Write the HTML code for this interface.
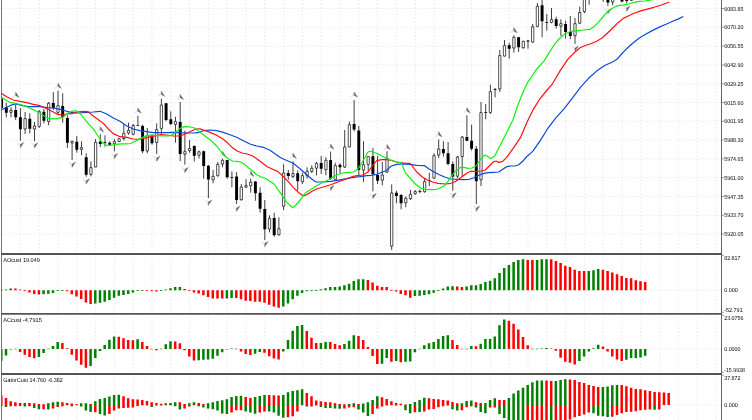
<!DOCTYPE html>
<html><head><meta charset="utf-8"><title>Chart</title>
<style>html,body{margin:0;padding:0;background:#fff;overflow:hidden}svg{display:block}text{text-rendering:geometricPrecision;font-family:"Liberation Sans","DejaVu Sans",sans-serif;fill:#000}</style></head><body>
<svg width="752" height="420" viewBox="0 0 752 420">
<rect x="0" y="0" width="752" height="420" fill="#fff"/>
<path d="M20.40 0V420 M39.20 0V420 M58.00 0V420 M76.80 0V420 M95.59 0V420 M114.40 0V420 M133.19 0V420 M152.00 0V420 M170.79 0V420 M189.59 0V420 M208.39 0V420 M227.19 0V420 M246.00 0V420 M264.80 0V420 M283.60 0V420 M302.40 0V420 M321.20 0V420 M340.00 0V420 M358.80 0V420 M377.60 0V420 M396.40 0V420 M415.20 0V420 M434.00 0V420 M452.80 0V420 M471.60 0V420 M490.40 0V420 M509.20 0V420 M528.00 0V420 M546.79 0V420 M565.60 0V420 M584.39 0V420 M603.19 0V420 M622.00 0V420 M640.79 0V420 M659.60 0V420 M678.39 0V420 M697.19 0V420 M716.00 0V420" stroke="#d8d8d8" stroke-width="0.65" stroke-dasharray="1.3 2.225" fill="none"/>
<path d="M2 8.52H721.5 M2 27.32H721.5 M2 46.12H721.5 M2 64.92H721.5 M2 83.72H721.5 M2 102.52H721.5 M2 121.32H721.5 M2 140.12H721.5 M2 158.92H721.5 M2 177.72H721.5 M2 196.52H721.5 M2 215.32H721.5 M2 234.12H721.5 M2 290.30H721.5 M2 349.00H721.5 M2 405.00H721.5" stroke="#e0e0e0" stroke-width="0.6" stroke-dasharray="1.76 1.76" fill="none"/>
<path d="M4.75 289.40h2.5V290.30h-2.5z M9.45 288.40h2.5V290.30h-2.5z M42.35 290.30h2.5V294.20h-2.5z M47.05 290.30h2.5V293.70h-2.5z M51.75 290.30h2.5V292.90h-2.5z M56.45 290.30h2.5V291.00h-2.5z M61.15 290.30h2.5V290.90h-2.5z M94.05 290.30h2.5V303.60h-2.5z M98.75 290.30h2.5V302.70h-2.5z M103.45 290.30h2.5V301.70h-2.5z M108.15 290.30h2.5V300.00h-2.5z M112.85 290.30h2.5V297.70h-2.5z M117.55 290.30h2.5V295.70h-2.5z M122.25 290.30h2.5V295.00h-2.5z M126.94 290.30h2.5V294.00h-2.5z M131.64 290.30h2.5V292.40h-2.5z M136.34 289.95h2.5V290.65h-2.5z M141.04 289.95h2.5V290.65h-2.5z M159.84 290.30h2.5V291.00h-2.5z M164.54 289.50h2.5V290.30h-2.5z M169.24 288.20h2.5V290.30h-2.5z M173.94 287.00h2.5V290.30h-2.5z M178.64 286.90h2.5V290.30h-2.5z M225.64 290.30h2.5V298.40h-2.5z M230.34 290.30h2.5V298.00h-2.5z M282.05 290.30h2.5V306.40h-2.5z M286.75 290.30h2.5V303.60h-2.5z M291.44 290.30h2.5V299.30h-2.5z M296.15 290.30h2.5V295.70h-2.5z M300.85 290.30h2.5V292.90h-2.5z M305.55 290.30h2.5V291.30h-2.5z M310.25 289.95h2.5V290.65h-2.5z M314.94 289.95h2.5V290.65h-2.5z M319.65 289.30h2.5V290.30h-2.5z M324.35 288.30h2.5V290.30h-2.5z M329.05 287.10h2.5V290.30h-2.5z M333.75 287.00h2.5V290.30h-2.5z M338.44 286.40h2.5V290.30h-2.5z M343.15 285.30h2.5V290.30h-2.5z M347.85 283.70h2.5V290.30h-2.5z M352.55 280.90h2.5V290.30h-2.5z M357.25 279.30h2.5V290.30h-2.5z M361.94 279.20h2.5V290.30h-2.5z M413.65 290.30h2.5V296.00h-2.5z M418.35 290.30h2.5V295.70h-2.5z M423.05 290.30h2.5V294.90h-2.5z M427.75 290.30h2.5V294.30h-2.5z M432.44 290.30h2.5V292.70h-2.5z M437.15 289.95h2.5V290.65h-2.5z M441.85 288.40h2.5V290.30h-2.5z M446.55 286.40h2.5V290.30h-2.5z M451.25 286.30h2.5V290.30h-2.5z M465.35 286.40h2.5V290.30h-2.5z M470.05 285.30h2.5V290.30h-2.5z M474.75 285.20h2.5V290.30h-2.5z M479.45 284.00h2.5V290.30h-2.5z M484.15 282.00h2.5V290.30h-2.5z M488.85 280.70h2.5V290.30h-2.5z M493.55 278.30h2.5V290.30h-2.5z M498.25 273.10h2.5V290.30h-2.5z M502.95 268.00h2.5V290.30h-2.5z M507.65 264.90h2.5V290.30h-2.5z M512.35 262.00h2.5V290.30h-2.5z M517.05 260.00h2.5V290.30h-2.5z M521.75 259.30h2.5V290.30h-2.5z M535.85 260.00h2.5V290.30h-2.5z M540.55 259.30h2.5V290.30h-2.5z M545.25 259.20h2.5V290.30h-2.5z M587.55 270.90h2.5V290.30h-2.5z M592.25 270.30h2.5V290.30h-2.5z M596.95 269.10h2.5V290.30h-2.5z" fill="#008000"/>
<path d="M0.04 289.60h2.5V290.30h-2.5z M14.14 288.60h2.5V290.30h-2.5z M18.85 289.40h2.5V290.30h-2.5z M23.55 289.95h2.5V290.65h-2.5z M28.25 290.30h2.5V292.50h-2.5z M32.95 290.30h2.5V294.00h-2.5z M37.65 290.30h2.5V294.40h-2.5z M65.85 290.30h2.5V291.30h-2.5z M70.55 290.30h2.5V294.20h-2.5z M75.25 290.30h2.5V296.60h-2.5z M79.95 290.30h2.5V298.90h-2.5z M84.65 290.30h2.5V302.40h-2.5z M89.35 290.30h2.5V304.00h-2.5z M145.74 290.30h2.5V291.00h-2.5z M150.44 290.30h2.5V291.20h-2.5z M155.14 290.30h2.5V291.60h-2.5z M183.34 289.10h2.5V290.30h-2.5z M188.04 289.95h2.5V290.65h-2.5z M192.74 290.30h2.5V292.50h-2.5z M197.44 290.30h2.5V293.60h-2.5z M202.14 290.30h2.5V295.30h-2.5z M206.84 290.30h2.5V297.10h-2.5z M211.54 290.30h2.5V298.40h-2.5z M216.24 290.30h2.5V298.50h-2.5z M220.94 290.30h2.5V298.60h-2.5z M235.04 290.30h2.5V298.10h-2.5z M239.74 290.30h2.5V299.30h-2.5z M244.44 290.30h2.5V300.70h-2.5z M249.14 290.30h2.5V301.10h-2.5z M253.84 290.30h2.5V301.70h-2.5z M258.55 290.30h2.5V301.80h-2.5z M263.25 290.30h2.5V302.70h-2.5z M267.94 290.30h2.5V304.70h-2.5z M272.65 290.30h2.5V306.40h-2.5z M277.35 290.30h2.5V307.70h-2.5z M366.65 280.00h2.5V290.30h-2.5z M371.35 282.40h2.5V290.30h-2.5z M376.05 285.70h2.5V290.30h-2.5z M380.75 286.90h2.5V290.30h-2.5z M385.44 287.00h2.5V290.30h-2.5z M390.15 289.95h2.5V290.65h-2.5z M394.85 290.30h2.5V291.50h-2.5z M399.55 290.30h2.5V294.00h-2.5z M404.25 290.30h2.5V295.30h-2.5z M408.94 290.30h2.5V297.70h-2.5z M455.95 286.40h2.5V290.30h-2.5z M460.65 287.10h2.5V290.30h-2.5z M526.45 260.00h2.5V290.30h-2.5z M531.14 260.10h2.5V290.30h-2.5z M549.95 259.30h2.5V290.30h-2.5z M554.64 260.90h2.5V290.30h-2.5z M559.35 263.10h2.5V290.30h-2.5z M564.05 265.70h2.5V290.30h-2.5z M568.75 267.10h2.5V290.30h-2.5z M573.45 269.70h2.5V290.30h-2.5z M578.14 270.90h2.5V290.30h-2.5z M582.85 271.00h2.5V290.30h-2.5z M601.64 269.70h2.5V290.30h-2.5z M606.35 270.90h2.5V290.30h-2.5z M611.05 272.40h2.5V290.30h-2.5z M615.75 274.30h2.5V290.30h-2.5z M620.45 276.00h2.5V290.30h-2.5z M625.14 278.00h2.5V290.30h-2.5z M629.85 278.30h2.5V290.30h-2.5z M634.55 280.30h2.5V290.30h-2.5z M639.25 281.30h2.5V290.30h-2.5z M643.95 282.00h2.5V290.30h-2.5z" fill="#ff0000"/>
<path d="M0.04 349.00h2.5V360.70h-2.5z M4.75 349.00h2.5V355.40h-2.5z M9.45 349.00h2.5V349.60h-2.5z M14.14 348.65h2.5V349.35h-2.5z M37.65 349.00h2.5V357.00h-2.5z M42.35 349.00h2.5V353.00h-2.5z M47.05 348.65h2.5V349.35h-2.5z M51.75 346.10h2.5V349.00h-2.5z M56.45 342.10h2.5V349.00h-2.5z M89.35 349.00h2.5V365.90h-2.5z M94.05 349.00h2.5V358.10h-2.5z M98.75 349.00h2.5V351.00h-2.5z M103.45 345.00h2.5V349.00h-2.5z M108.15 339.70h2.5V349.00h-2.5z M112.85 336.60h2.5V349.00h-2.5z M136.34 339.30h2.5V349.00h-2.5z M159.84 348.65h2.5V349.35h-2.5z M164.54 344.30h2.5V349.00h-2.5z M169.24 341.30h2.5V349.00h-2.5z M197.44 349.00h2.5V360.30h-2.5z M202.14 349.00h2.5V359.70h-2.5z M206.84 349.00h2.5V359.40h-2.5z M211.54 349.00h2.5V358.70h-2.5z M216.24 349.00h2.5V355.70h-2.5z M220.94 349.00h2.5V352.30h-2.5z M225.64 349.00h2.5V349.50h-2.5z M230.34 348.40h2.5V349.00h-2.5z M253.84 349.00h2.5V353.70h-2.5z M258.55 349.00h2.5V352.00h-2.5z M282.05 349.00h2.5V351.50h-2.5z M286.75 340.10h2.5V349.00h-2.5z M291.44 330.70h2.5V349.00h-2.5z M296.15 326.10h2.5V349.00h-2.5z M300.85 325.00h2.5V349.00h-2.5z M319.65 342.90h2.5V349.00h-2.5z M324.35 341.90h2.5V349.00h-2.5z M343.15 344.10h2.5V349.00h-2.5z M347.85 340.70h2.5V349.00h-2.5z M352.55 335.30h2.5V349.00h-2.5z M380.75 349.00h2.5V363.70h-2.5z M385.44 349.00h2.5V358.10h-2.5z M394.85 349.00h2.5V361.00h-2.5z M404.25 349.00h2.5V361.70h-2.5z M408.94 349.00h2.5V361.60h-2.5z M413.65 349.00h2.5V352.30h-2.5z M418.35 348.65h2.5V349.35h-2.5z M423.05 345.30h2.5V349.00h-2.5z M427.75 343.30h2.5V349.00h-2.5z M432.44 342.10h2.5V349.00h-2.5z M437.15 339.00h2.5V349.00h-2.5z M441.85 336.10h2.5V349.00h-2.5z M446.55 335.30h2.5V349.00h-2.5z M465.35 348.65h2.5V349.35h-2.5z M470.05 346.10h2.5V349.00h-2.5z M479.45 343.70h2.5V349.00h-2.5z M484.15 339.00h2.5V349.00h-2.5z M488.85 338.90h2.5V349.00h-2.5z M493.55 336.60h2.5V349.00h-2.5z M498.25 325.30h2.5V349.00h-2.5z M502.95 319.40h2.5V349.00h-2.5z M535.85 348.65h2.5V349.35h-2.5z M540.55 348.50h2.5V349.00h-2.5z M545.25 348.10h2.5V349.00h-2.5z M578.14 349.00h2.5V361.00h-2.5z M582.85 349.00h2.5V356.60h-2.5z M587.55 349.00h2.5V351.50h-2.5z M592.25 348.20h2.5V349.00h-2.5z M596.95 344.70h2.5V349.00h-2.5z M625.14 349.00h2.5V359.70h-2.5z M629.85 349.00h2.5V358.10h-2.5z M634.55 349.00h2.5V358.00h-2.5z M639.25 349.00h2.5V357.40h-2.5z M643.95 349.00h2.5V355.70h-2.5z" fill="#008000"/>
<path d="M18.85 349.00h2.5V351.90h-2.5z M23.55 349.00h2.5V354.70h-2.5z M28.25 349.00h2.5V357.00h-2.5z M32.95 349.00h2.5V358.30h-2.5z M61.15 343.00h2.5V349.00h-2.5z M65.85 348.20h2.5V349.00h-2.5z M70.55 349.00h2.5V354.70h-2.5z M75.25 349.00h2.5V360.60h-2.5z M79.95 349.00h2.5V364.70h-2.5z M84.65 349.00h2.5V367.70h-2.5z M117.55 336.70h2.5V349.00h-2.5z M122.25 338.30h2.5V349.00h-2.5z M126.94 340.10h2.5V349.00h-2.5z M131.64 340.20h2.5V349.00h-2.5z M141.04 342.10h2.5V349.00h-2.5z M145.74 346.10h2.5V349.00h-2.5z M150.44 348.65h2.5V349.35h-2.5z M155.14 349.00h2.5V350.30h-2.5z M173.94 341.40h2.5V349.00h-2.5z M178.64 343.30h2.5V349.00h-2.5z M183.34 349.00h2.5V350.30h-2.5z M188.04 349.00h2.5V356.60h-2.5z M192.74 349.00h2.5V360.60h-2.5z M235.04 348.65h2.5V349.35h-2.5z M239.74 349.00h2.5V351.50h-2.5z M244.44 349.00h2.5V353.90h-2.5z M249.14 349.00h2.5V355.00h-2.5z M263.25 349.00h2.5V352.70h-2.5z M267.94 349.00h2.5V356.30h-2.5z M272.65 349.00h2.5V358.60h-2.5z M277.35 349.00h2.5V359.40h-2.5z M305.55 331.00h2.5V349.00h-2.5z M310.25 337.70h2.5V349.00h-2.5z M314.94 343.00h2.5V349.00h-2.5z M329.05 342.00h2.5V349.00h-2.5z M333.75 344.10h2.5V349.00h-2.5z M338.44 345.30h2.5V349.00h-2.5z M357.25 336.10h2.5V349.00h-2.5z M361.94 340.10h2.5V349.00h-2.5z M366.65 347.00h2.5V349.00h-2.5z M371.35 349.00h2.5V355.90h-2.5z M376.05 349.00h2.5V364.10h-2.5z M390.15 349.00h2.5V361.70h-2.5z M399.55 349.00h2.5V362.30h-2.5z M451.25 340.10h2.5V349.00h-2.5z M455.95 345.00h2.5V349.00h-2.5z M460.65 348.65h2.5V349.35h-2.5z M474.75 346.30h2.5V349.00h-2.5z M507.65 320.70h2.5V349.00h-2.5z M512.35 323.70h2.5V349.00h-2.5z M517.05 329.40h2.5V349.00h-2.5z M521.75 337.00h2.5V349.00h-2.5z M526.45 345.30h2.5V349.00h-2.5z M531.14 348.65h2.5V349.35h-2.5z M549.95 348.40h2.5V349.00h-2.5z M554.64 349.00h2.5V350.70h-2.5z M559.35 349.00h2.5V357.70h-2.5z M564.05 349.00h2.5V361.70h-2.5z M568.75 349.00h2.5V362.70h-2.5z M573.45 349.00h2.5V364.60h-2.5z M601.64 346.60h2.5V349.00h-2.5z M606.35 349.00h2.5V351.50h-2.5z M611.05 349.00h2.5V356.60h-2.5z M615.75 349.00h2.5V359.40h-2.5z M620.45 349.00h2.5V361.00h-2.5z" fill="#ff0000"/>
<path d="M23.55 403.00h2.5V405.00h-2.5z M47.05 403.30h2.5V405.00h-2.5z M51.75 402.20h2.5V405.00h-2.5z M56.45 401.70h2.5V405.00h-2.5z M79.95 403.30h2.5V405.00h-2.5z M84.65 403.20h2.5V405.00h-2.5z M94.05 401.30h2.5V405.00h-2.5z M98.75 398.90h2.5V405.00h-2.5z M103.45 397.90h2.5V405.00h-2.5z M108.15 396.60h2.5V405.00h-2.5z M112.85 394.90h2.5V405.00h-2.5z M117.55 394.80h2.5V405.00h-2.5z M164.54 403.30h2.5V405.00h-2.5z M169.24 402.90h2.5V405.00h-2.5z M173.94 402.20h2.5V405.00h-2.5z M188.04 403.30h2.5V405.00h-2.5z M192.74 402.20h2.5V405.00h-2.5z M206.84 403.30h2.5V405.00h-2.5z M211.54 402.20h2.5V405.00h-2.5z M216.24 401.00h2.5V405.00h-2.5z M220.94 400.30h2.5V405.00h-2.5z M225.64 399.30h2.5V405.00h-2.5z M230.34 397.00h2.5V405.00h-2.5z M235.04 395.90h2.5V405.00h-2.5z M239.74 395.80h2.5V405.00h-2.5z M253.84 397.00h2.5V405.00h-2.5z M258.55 395.90h2.5V405.00h-2.5z M263.25 394.90h2.5V405.00h-2.5z M282.05 394.90h2.5V405.00h-2.5z M286.75 392.20h2.5V405.00h-2.5z M291.44 390.90h2.5V405.00h-2.5z M296.15 390.20h2.5V405.00h-2.5z M300.85 389.30h2.5V405.00h-2.5z M347.85 404.00h2.5V405.00h-2.5z M352.55 403.30h2.5V405.00h-2.5z M361.94 403.60h2.5V405.00h-2.5z M366.65 402.30h2.5V405.00h-2.5z M371.35 399.90h2.5V405.00h-2.5z M376.05 396.30h2.5V405.00h-2.5z M408.94 404.10h2.5V405.00h-2.5z M413.65 401.90h2.5V405.00h-2.5z M418.35 399.90h2.5V405.00h-2.5z M423.05 397.70h2.5V405.00h-2.5z M460.65 403.20h2.5V405.00h-2.5z M465.35 401.00h2.5V405.00h-2.5z M470.05 400.60h2.5V405.00h-2.5z M484.15 402.90h2.5V405.00h-2.5z M488.85 399.90h2.5V405.00h-2.5z M493.55 398.30h2.5V405.00h-2.5z M507.65 397.90h2.5V405.00h-2.5z M512.35 393.50h2.5V405.00h-2.5z M517.05 390.60h2.5V405.00h-2.5z M521.75 387.70h2.5V405.00h-2.5z M526.45 384.90h2.5V405.00h-2.5z M531.14 382.30h2.5V405.00h-2.5z M535.85 380.60h2.5V405.00h-2.5z M540.55 380.50h2.5V405.00h-2.5z M554.64 380.90h2.5V405.00h-2.5z M559.35 379.90h2.5V405.00h-2.5z M564.05 379.30h2.5V405.00h-2.5z M601.64 386.90h2.5V405.00h-2.5z M606.35 386.60h2.5V405.00h-2.5z M611.05 385.30h2.5V405.00h-2.5z M615.75 384.90h2.5V405.00h-2.5z" fill="#008000"/>
<path d="M0.04 395.30h2.5V405.00h-2.5z M4.75 397.90h2.5V405.00h-2.5z M9.45 401.30h2.5V405.00h-2.5z M14.14 402.30h2.5V405.00h-2.5z M18.85 403.00h2.5V405.00h-2.5z M28.25 403.00h2.5V405.00h-2.5z M32.95 403.30h2.5V405.00h-2.5z M37.65 403.90h2.5V405.00h-2.5z M42.35 404.20h2.5V405.00h-2.5z M61.15 402.30h2.5V405.00h-2.5z M65.85 403.00h2.5V405.00h-2.5z M70.55 403.60h2.5V405.00h-2.5z M75.25 404.30h2.5V405.00h-2.5z M89.35 404.00h2.5V405.00h-2.5z M122.25 396.30h2.5V405.00h-2.5z M126.94 398.20h2.5V405.00h-2.5z M131.64 399.30h2.5V405.00h-2.5z M136.34 399.40h2.5V405.00h-2.5z M141.04 399.90h2.5V405.00h-2.5z M145.74 401.00h2.5V405.00h-2.5z M150.44 402.30h2.5V405.00h-2.5z M155.14 403.00h2.5V405.00h-2.5z M159.84 403.70h2.5V405.00h-2.5z M178.64 402.30h2.5V405.00h-2.5z M183.34 404.00h2.5V405.00h-2.5z M197.44 402.90h2.5V405.00h-2.5z M202.14 403.90h2.5V405.00h-2.5z M244.44 397.00h2.5V405.00h-2.5z M249.14 397.90h2.5V405.00h-2.5z M267.94 395.00h2.5V405.00h-2.5z M272.65 395.30h2.5V405.00h-2.5z M277.35 395.40h2.5V405.00h-2.5z M305.55 393.00h2.5V405.00h-2.5z M310.25 396.30h2.5V405.00h-2.5z M314.94 400.60h2.5V405.00h-2.5z M319.65 401.30h2.5V405.00h-2.5z M324.35 401.90h2.5V405.00h-2.5z M329.05 402.30h2.5V405.00h-2.5z M333.75 403.30h2.5V405.00h-2.5z M338.44 404.00h2.5V405.00h-2.5z M343.15 404.30h2.5V405.00h-2.5z M357.25 404.00h2.5V405.00h-2.5z M380.75 397.30h2.5V405.00h-2.5z M385.44 398.90h2.5V405.00h-2.5z M390.15 401.30h2.5V405.00h-2.5z M394.85 403.00h2.5V405.00h-2.5z M399.55 403.70h2.5V405.00h-2.5z M404.25 404.40h2.5V405.00h-2.5z M427.75 398.20h2.5V405.00h-2.5z M432.44 398.90h2.5V405.00h-2.5z M437.15 399.30h2.5V405.00h-2.5z M441.85 399.90h2.5V405.00h-2.5z M446.55 400.60h2.5V405.00h-2.5z M451.25 401.90h2.5V405.00h-2.5z M455.95 403.30h2.5V405.00h-2.5z M474.75 402.20h2.5V405.00h-2.5z M479.45 403.00h2.5V405.00h-2.5z M498.25 399.90h2.5V405.00h-2.5z M502.95 400.00h2.5V405.00h-2.5z M545.25 380.60h2.5V405.00h-2.5z M549.95 381.00h2.5V405.00h-2.5z M568.75 379.50h2.5V405.00h-2.5z M573.45 379.90h2.5V405.00h-2.5z M578.14 381.90h2.5V405.00h-2.5z M582.85 383.00h2.5V405.00h-2.5z M587.55 384.90h2.5V405.00h-2.5z M592.25 385.90h2.5V405.00h-2.5z M596.95 387.00h2.5V405.00h-2.5z M620.45 385.00h2.5V405.00h-2.5z M625.14 386.20h2.5V405.00h-2.5z M629.85 387.70h2.5V405.00h-2.5z M634.55 389.00h2.5V405.00h-2.5z M639.25 389.30h2.5V405.00h-2.5z M643.95 390.20h2.5V405.00h-2.5z M648.64 390.90h2.5V405.00h-2.5z M653.35 391.90h2.5V405.00h-2.5z M658.05 392.30h2.5V405.00h-2.5z M662.75 392.40h2.5V405.00h-2.5z M667.45 393.00h2.5V405.00h-2.5z" fill="#ff0000"/>
<path d="M0.04 405.00h2.5V406.10h-2.5z M4.75 405.00h2.5V406.90h-2.5z M23.55 405.00h2.5V406.60h-2.5z M32.95 405.00h2.5V407.90h-2.5z M37.65 405.00h2.5V409.30h-2.5z M47.05 405.00h2.5V409.60h-2.5z M70.55 405.00h2.5V406.30h-2.5z M79.95 405.00h2.5V406.60h-2.5z M84.65 405.00h2.5V410.60h-2.5z M89.35 405.00h2.5V411.90h-2.5z M98.75 405.00h2.5V413.90h-2.5z M103.45 405.00h2.5V415.50h-2.5z M145.74 405.00h2.5V405.60h-2.5z M150.44 405.00h2.5V406.90h-2.5z M173.94 405.00h2.5V406.30h-2.5z M178.64 405.00h2.5V409.50h-2.5z M197.44 405.00h2.5V406.30h-2.5z M202.14 405.00h2.5V407.50h-2.5z M206.84 405.00h2.5V408.60h-2.5z M211.54 405.00h2.5V409.30h-2.5z M216.24 405.00h2.5V410.60h-2.5z M220.94 405.00h2.5V413.50h-2.5z M225.64 405.00h2.5V413.90h-2.5z M244.44 405.00h2.5V411.50h-2.5z M249.14 405.00h2.5V412.60h-2.5z M253.84 405.00h2.5V413.70h-2.5z M267.94 405.00h2.5V411.60h-2.5z M272.65 405.00h2.5V412.60h-2.5z M277.35 405.00h2.5V415.70h-2.5z M282.05 405.00h2.5V417.70h-2.5z M305.55 405.00h2.5V406.60h-2.5z M319.65 405.00h2.5V406.90h-2.5z M324.35 405.00h2.5V407.90h-2.5z M329.05 405.00h2.5V408.00h-2.5z M333.75 405.00h2.5V408.60h-2.5z M338.44 405.00h2.5V408.70h-2.5z M357.25 405.00h2.5V409.60h-2.5z M361.94 405.00h2.5V412.60h-2.5z M366.65 405.00h2.5V415.90h-2.5z M394.85 405.00h2.5V405.60h-2.5z M404.25 405.00h2.5V410.30h-2.5z M408.94 405.00h2.5V413.30h-2.5z M418.35 405.00h2.5V411.90h-2.5z M451.25 405.00h2.5V409.30h-2.5z M455.95 405.00h2.5V410.60h-2.5z M474.75 405.00h2.5V407.60h-2.5z M479.45 405.00h2.5V411.90h-2.5z M484.15 405.00h2.5V413.30h-2.5z M498.25 405.00h2.5V413.90h-2.5z M502.95 405.00h2.5V417.90h-2.5z M507.65 405.00h2.5V421.60h-2.5z M512.35 405.00h2.5V424.60h-2.5z M517.05 405.00h2.5V426.60h-2.5z M521.75 405.00h2.5V427.60h-2.5z M549.95 405.00h2.5V423.10h-2.5z M592.25 405.00h2.5V413.30h-2.5z M596.95 405.00h2.5V415.70h-2.5z M601.64 405.00h2.5V416.20h-2.5z M606.35 405.00h2.5V416.90h-2.5z M653.35 405.00h2.5V409.65h-2.5z" fill="#008000"/>
<path d="M9.45 405.00h2.5V406.30h-2.5z M14.14 405.00h2.5V406.20h-2.5z M18.85 405.00h2.5V406.10h-2.5z M28.25 405.00h2.5V406.30h-2.5z M42.35 405.00h2.5V409.20h-2.5z M51.75 405.00h2.5V408.60h-2.5z M56.45 405.00h2.5V406.90h-2.5z M61.15 405.00h2.5V406.30h-2.5z M65.85 404.65h2.5V405.35h-2.5z M75.25 404.65h2.5V405.35h-2.5z M94.05 405.00h2.5V412.20h-2.5z M108.15 405.00h2.5V413.90h-2.5z M112.85 405.00h2.5V410.60h-2.5z M117.55 405.00h2.5V408.60h-2.5z M122.25 405.00h2.5V407.90h-2.5z M126.94 405.00h2.5V407.80h-2.5z M131.64 405.00h2.5V407.50h-2.5z M136.34 405.00h2.5V405.90h-2.5z M141.04 404.65h2.5V405.35h-2.5z M155.14 405.00h2.5V405.60h-2.5z M159.84 405.00h2.5V405.50h-2.5z M164.54 404.65h2.5V405.35h-2.5z M169.24 404.65h2.5V405.35h-2.5z M183.34 405.00h2.5V408.60h-2.5z M188.04 405.00h2.5V406.60h-2.5z M192.74 404.65h2.5V405.35h-2.5z M230.34 405.00h2.5V412.60h-2.5z M235.04 405.00h2.5V410.30h-2.5z M239.74 405.00h2.5V410.20h-2.5z M258.55 405.00h2.5V412.60h-2.5z M263.25 405.00h2.5V411.50h-2.5z M286.75 405.00h2.5V417.30h-2.5z M291.44 405.00h2.5V416.30h-2.5z M296.15 405.00h2.5V411.50h-2.5z M300.85 404.65h2.5V405.35h-2.5z M310.25 405.00h2.5V406.50h-2.5z M314.94 405.00h2.5V405.50h-2.5z M343.15 405.00h2.5V408.60h-2.5z M347.85 405.00h2.5V407.60h-2.5z M352.55 405.00h2.5V407.30h-2.5z M371.35 405.00h2.5V413.90h-2.5z M376.05 405.00h2.5V408.60h-2.5z M380.75 405.00h2.5V406.60h-2.5z M385.44 405.00h2.5V405.50h-2.5z M390.15 404.65h2.5V405.35h-2.5z M399.55 404.65h2.5V405.35h-2.5z M413.65 405.00h2.5V412.20h-2.5z M423.05 405.00h2.5V411.50h-2.5z M427.75 405.00h2.5V409.60h-2.5z M432.44 405.00h2.5V409.00h-2.5z M437.15 405.00h2.5V407.30h-2.5z M441.85 405.00h2.5V406.30h-2.5z M446.55 405.00h2.5V405.60h-2.5z M460.65 405.00h2.5V410.30h-2.5z M465.35 405.00h2.5V407.30h-2.5z M470.05 405.00h2.5V406.30h-2.5z M488.85 405.00h2.5V407.60h-2.5z M493.55 405.00h2.5V407.50h-2.5z M526.45 405.00h2.5V426.60h-2.5z M531.14 405.00h2.5V425.60h-2.5z M535.85 405.00h2.5V424.60h-2.5z M540.55 405.00h2.5V423.60h-2.5z M545.25 405.00h2.5V422.60h-2.5z M554.64 405.00h2.5V422.60h-2.5z M559.35 405.00h2.5V421.60h-2.5z M564.05 405.00h2.5V420.60h-2.5z M568.75 405.00h2.5V419.60h-2.5z M573.45 405.00h2.5V417.30h-2.5z M578.14 405.00h2.5V415.90h-2.5z M582.85 405.00h2.5V414.60h-2.5z M587.55 405.00h2.5V412.60h-2.5z M611.05 405.00h2.5V416.80h-2.5z M615.75 405.00h2.5V415.00h-2.5z M620.45 405.00h2.5V413.30h-2.5z M625.14 405.00h2.5V411.90h-2.5z M629.85 405.00h2.5V411.70h-2.5z M634.55 405.00h2.5V411.30h-2.5z M639.25 405.00h2.5V410.30h-2.5z M643.95 405.00h2.5V409.70h-2.5z M648.64 405.00h2.5V409.60h-2.5z M658.05 405.00h2.5V409.60h-2.5z" fill="#ff0000"/>
<path d="M15.70 92.30l-3.2 5.2l3.2 -1.9z" fill="#f2f2f2" stroke="#c4c4c4" stroke-width="0.3"/><path d="M15.70 92.30l3.4 5.2l-3.4 -1.9z" fill="#5e6068" stroke="#5e6068" stroke-width="0.35"/>
<path d="M58.00 83.30l-3.2 5.2l3.2 -1.9z" fill="#f2f2f2" stroke="#c4c4c4" stroke-width="0.3"/><path d="M58.00 83.30l3.4 5.2l-3.4 -1.9z" fill="#5e6068" stroke="#5e6068" stroke-width="0.35"/>
<path d="M100.30 126.70l-3.2 5.2l3.2 -1.9z" fill="#f2f2f2" stroke="#c4c4c4" stroke-width="0.3"/><path d="M100.30 126.70l3.4 5.2l-3.4 -1.9z" fill="#5e6068" stroke="#5e6068" stroke-width="0.35"/>
<path d="M137.89 108.00l-3.2 5.2l3.2 -1.9z" fill="#f2f2f2" stroke="#c4c4c4" stroke-width="0.3"/><path d="M137.89 108.00l3.4 5.2l-3.4 -1.9z" fill="#5e6068" stroke="#5e6068" stroke-width="0.35"/>
<path d="M161.39 91.30l-3.2 5.2l3.2 -1.9z" fill="#f2f2f2" stroke="#c4c4c4" stroke-width="0.3"/><path d="M161.39 91.30l3.4 5.2l-3.4 -1.9z" fill="#5e6068" stroke="#5e6068" stroke-width="0.35"/>
<path d="M180.19 94.40l-3.2 5.2l3.2 -1.9z" fill="#f2f2f2" stroke="#c4c4c4" stroke-width="0.3"/><path d="M180.19 94.40l3.4 5.2l-3.4 -1.9z" fill="#5e6068" stroke="#5e6068" stroke-width="0.35"/>
<path d="M222.50 151.30l-3.2 5.2l3.2 -1.9z" fill="#f2f2f2" stroke="#c4c4c4" stroke-width="0.3"/><path d="M222.50 151.30l3.4 5.2l-3.4 -1.9z" fill="#5e6068" stroke="#5e6068" stroke-width="0.35"/>
<path d="M250.69 171.30l-3.2 5.2l3.2 -1.9z" fill="#f2f2f2" stroke="#c4c4c4" stroke-width="0.3"/><path d="M250.69 171.30l3.4 5.2l-3.4 -1.9z" fill="#5e6068" stroke="#5e6068" stroke-width="0.35"/>
<path d="M293.00 153.30l-3.2 5.2l3.2 -1.9z" fill="#f2f2f2" stroke="#c4c4c4" stroke-width="0.3"/><path d="M293.00 153.30l3.4 5.2l-3.4 -1.9z" fill="#5e6068" stroke="#5e6068" stroke-width="0.35"/>
<path d="M330.60 144.00l-3.2 5.2l3.2 -1.9z" fill="#f2f2f2" stroke="#c4c4c4" stroke-width="0.3"/><path d="M330.60 144.00l3.4 5.2l-3.4 -1.9z" fill="#5e6068" stroke="#5e6068" stroke-width="0.35"/>
<path d="M354.10 92.00l-3.2 5.2l3.2 -1.9z" fill="#f2f2f2" stroke="#c4c4c4" stroke-width="0.3"/><path d="M354.10 92.00l3.4 5.2l-3.4 -1.9z" fill="#5e6068" stroke="#5e6068" stroke-width="0.35"/>
<path d="M387.00 144.60l-3.2 5.2l3.2 -1.9z" fill="#f2f2f2" stroke="#c4c4c4" stroke-width="0.3"/><path d="M387.00 144.60l3.4 5.2l-3.4 -1.9z" fill="#5e6068" stroke="#5e6068" stroke-width="0.35"/>
<path d="M438.70 131.70l-3.2 5.2l3.2 -1.9z" fill="#f2f2f2" stroke="#c4c4c4" stroke-width="0.3"/><path d="M438.70 131.70l3.4 5.2l-3.4 -1.9z" fill="#5e6068" stroke="#5e6068" stroke-width="0.35"/>
<path d="M466.90 107.70l-3.2 5.2l3.2 -1.9z" fill="#f2f2f2" stroke="#c4c4c4" stroke-width="0.3"/><path d="M466.90 107.70l3.4 5.2l-3.4 -1.9z" fill="#5e6068" stroke="#5e6068" stroke-width="0.35"/>
<path d="M513.89 27.70l-3.2 5.2l3.2 -1.9z" fill="#f2f2f2" stroke="#c4c4c4" stroke-width="0.3"/><path d="M513.89 27.70l3.4 5.2l-3.4 -1.9z" fill="#5e6068" stroke="#5e6068" stroke-width="0.35"/>
<path d="M20.40 147.60l-3.2 -5.2l3.2 1.9z" fill="#f2f2f2" stroke="#c4c4c4" stroke-width="0.3"/><path d="M20.40 147.60l3.4 -5.2l-3.4 1.9z" fill="#5e6068" stroke="#5e6068" stroke-width="0.35"/>
<path d="M34.50 148.00l-3.2 -5.2l3.2 1.9z" fill="#f2f2f2" stroke="#c4c4c4" stroke-width="0.3"/><path d="M34.50 148.00l3.4 -5.2l-3.4 1.9z" fill="#5e6068" stroke="#5e6068" stroke-width="0.35"/>
<path d="M72.09 167.30l-3.2 -5.2l3.2 1.9z" fill="#f2f2f2" stroke="#c4c4c4" stroke-width="0.3"/><path d="M72.09 167.30l3.4 -5.2l-3.4 1.9z" fill="#5e6068" stroke="#5e6068" stroke-width="0.35"/>
<path d="M86.20 184.00l-3.2 -5.2l3.2 1.9z" fill="#f2f2f2" stroke="#c4c4c4" stroke-width="0.3"/><path d="M86.20 184.00l3.4 -5.2l-3.4 1.9z" fill="#5e6068" stroke="#5e6068" stroke-width="0.35"/>
<path d="M114.40 158.60l-3.2 -5.2l3.2 1.9z" fill="#f2f2f2" stroke="#c4c4c4" stroke-width="0.3"/><path d="M114.40 158.60l3.4 -5.2l-3.4 1.9z" fill="#5e6068" stroke="#5e6068" stroke-width="0.35"/>
<path d="M156.69 161.30l-3.2 -5.2l3.2 1.9z" fill="#f2f2f2" stroke="#c4c4c4" stroke-width="0.3"/><path d="M156.69 161.30l3.4 -5.2l-3.4 1.9z" fill="#5e6068" stroke="#5e6068" stroke-width="0.35"/>
<path d="M184.89 172.60l-3.2 -5.2l3.2 1.9z" fill="#f2f2f2" stroke="#c4c4c4" stroke-width="0.3"/><path d="M184.89 172.60l3.4 -5.2l-3.4 1.9z" fill="#5e6068" stroke="#5e6068" stroke-width="0.35"/>
<path d="M208.39 205.30l-3.2 -5.2l3.2 1.9z" fill="#f2f2f2" stroke="#c4c4c4" stroke-width="0.3"/><path d="M208.39 205.30l3.4 -5.2l-3.4 1.9z" fill="#5e6068" stroke="#5e6068" stroke-width="0.35"/>
<path d="M236.59 211.30l-3.2 -5.2l3.2 1.9z" fill="#f2f2f2" stroke="#c4c4c4" stroke-width="0.3"/><path d="M236.59 211.30l3.4 -5.2l-3.4 1.9z" fill="#5e6068" stroke="#5e6068" stroke-width="0.35"/>
<path d="M264.80 246.60l-3.2 -5.2l3.2 1.9z" fill="#f2f2f2" stroke="#c4c4c4" stroke-width="0.3"/><path d="M264.80 246.60l3.4 -5.2l-3.4 1.9z" fill="#5e6068" stroke="#5e6068" stroke-width="0.35"/>
<path d="M330.60 190.60l-3.2 -5.2l3.2 1.9z" fill="#f2f2f2" stroke="#c4c4c4" stroke-width="0.3"/><path d="M330.60 190.60l3.4 -5.2l-3.4 1.9z" fill="#5e6068" stroke="#5e6068" stroke-width="0.35"/>
<path d="M372.90 198.60l-3.2 -5.2l3.2 1.9z" fill="#f2f2f2" stroke="#c4c4c4" stroke-width="0.3"/><path d="M372.90 198.60l3.4 -5.2l-3.4 1.9z" fill="#5e6068" stroke="#5e6068" stroke-width="0.35"/>
<path d="M452.80 198.00l-3.2 -5.2l3.2 1.9z" fill="#f2f2f2" stroke="#c4c4c4" stroke-width="0.3"/><path d="M452.80 198.00l3.4 -5.2l-3.4 1.9z" fill="#5e6068" stroke="#5e6068" stroke-width="0.35"/>
<path d="M476.30 211.30l-3.2 -5.2l3.2 1.9z" fill="#f2f2f2" stroke="#c4c4c4" stroke-width="0.3"/><path d="M476.30 211.30l3.4 -5.2l-3.4 1.9z" fill="#5e6068" stroke="#5e6068" stroke-width="0.35"/>
<path d="M575.00 51.30l-3.2 -5.2l3.2 1.9z" fill="#f2f2f2" stroke="#c4c4c4" stroke-width="0.3"/><path d="M575.00 51.30l3.4 -5.2l-3.4 1.9z" fill="#5e6068" stroke="#5e6068" stroke-width="0.35"/>
<path d="M607.89 13.80l-3.2 -5.2l3.2 1.9z" fill="#f2f2f2" stroke="#c4c4c4" stroke-width="0.3"/><path d="M607.89 13.80l3.4 -5.2l-3.4 1.9z" fill="#5e6068" stroke="#5e6068" stroke-width="0.35"/>
<path d="M626.69 11.30l-3.2 -5.2l3.2 1.9z" fill="#f2f2f2" stroke="#c4c4c4" stroke-width="0.3"/><path d="M626.69 11.30l3.4 -5.2l-3.4 1.9z" fill="#5e6068" stroke="#5e6068" stroke-width="0.35"/>
<path d="M1.59 98.00V109.00 M6.29 102.70V117.30 M11.00 107.30V117.30 M15.70 104.70V120.00 M20.40 108.00V140.70 M25.10 112.00V134.00 M29.80 113.30V133.30 M34.50 122.00V141.30 M39.20 110.00V128.00 M43.90 108.70V123.30 M48.60 102.00V125.30 M53.30 92.00V110.00 M58.00 90.70V114.00 M62.70 93.30V122.70 M67.40 115.30V148.00 M72.09 140.70V160.00 M76.80 136.00V152.70 M81.50 141.30V155.30 M86.20 153.30V176.70 M90.90 161.30V176.40 M95.59 139.00V167.30 M100.30 134.20V147.10 M105.00 135.30V146.70 M109.70 141.30V144.70 M114.40 139.30V151.30 M119.10 138.40V141.90 M123.80 124.00V140.60 M128.50 122.70V134.70 M133.19 124.00V135.30 M137.89 116.00V125.30 M142.59 124.70V153.30 M147.29 128.00V153.30 M152.00 134.70V144.70 M156.69 123.30V154.00 M161.39 98.70V134.00 M166.09 103.30V121.30 M170.79 111.30V125.30 M175.50 116.70V142.70 M180.19 102.00V161.30 M184.89 130.70V164.70 M189.59 140.00V152.70 M194.29 145.30V161.50 M199.00 150.50V158.50 M203.69 150.50V178.70 M208.39 165.00V198.00 M213.09 170.00V183.30 M217.79 162.00V176.70 M222.50 158.70V167.30 M227.19 160.00V178.70 M231.90 171.30V187.30 M236.59 172.00V204.00 M241.29 184.00V200.70 M246.00 179.30V188.00 M250.69 178.70V192.70 M255.40 181.00V200.70 M260.10 187.30V212.70 M264.80 200.00V240.00 M269.50 215.30V232.40 M274.20 212.70V236.70 M278.90 217.30V235.70 M283.60 164.00V210.00 M288.30 170.00V179.70 M293.00 161.30V178.00 M297.70 170.40V190.70 M302.40 172.70V184.00 M307.10 167.30V178.70 M311.80 165.30V173.00 M316.50 162.00V175.30 M321.20 156.00V174.00 M325.90 157.30V175.30 M330.60 151.70V180.00 M335.30 162.70V180.70 M340.00 163.30V173.30 M344.70 130.00V168.00 M349.40 121.70V147.30 M354.10 100.00V131.30 M358.80 126.00V175.30 M363.50 141.30V182.00 M368.20 156.00V171.30 M372.90 148.00V191.30 M377.60 156.00V184.00 M382.30 162.00V185.30 M387.00 151.30V172.70 M391.70 184.40V250.00 M396.40 190.70V203.30 M401.10 194.00V209.30 M405.80 196.40V207.30 M410.50 190.00V200.00 M415.20 190.00V194.70 M419.90 189.30V193.30 M424.60 178.00V192.70 M429.30 172.70V186.00 M434.00 153.30V178.70 M438.70 139.30V158.00 M443.40 141.30V156.70 M448.10 142.00V165.30 M452.80 161.30V190.70 M457.50 156.00V178.00 M462.20 136.00V176.00 M466.90 115.30V141.30 M471.60 124.70V150.70 M476.30 146.00V204.00 M481.00 102.00V186.00 M485.70 104.00V119.30 M490.40 84.70V114.00 M495.10 88.00V97.30 M499.80 50.00V92.00 M504.50 40.00V56.40 M509.20 42.70V58.70 M513.89 35.30V52.70 M518.60 36.70V52.00 M523.29 40.70V48.70 M528.00 40.00V48.70 M532.69 24.00V42.70 M537.39 3.00V27.30 M542.10 -1.00V37.30 M546.79 14.00V30.70 M551.50 8.00V23.30 M556.19 16.70V28.70 M560.89 19.30V36.00 M565.60 20.70V38.70 M570.29 16.00V39.30 M575.00 18.00V44.00 M579.69 6.60V24.00 M584.39 -4.00V13.20 M589.10 -6.00V4.80 M603.19 -6.00V1.80 M607.89 -6.00V6.00 M612.60 -6.00V5.40 M622.00 -6.00V2.40 M626.69 -6.00V3.40 M631.39 -6.00V0.60" stroke="#000" stroke-width="0.75" fill="none"/>
<path d="M0.12 98.70h2.94V108.00h-2.94z M4.83 107.30h2.94V112.70h-2.94z M14.22 110.00h2.94V117.30h-2.94z M18.93 117.30h2.94V129.30h-2.94z M28.33 118.70h2.94V128.70h-2.94z M42.43 111.70h2.94V120.70h-2.94z M51.83 103.00h2.94V108.00h-2.94z M61.23 106.00h2.94V117.30h-2.94z M65.93 118.00h2.94V142.70h-2.94z M75.33 141.70h2.94V149.70h-2.94z M84.73 157.30h2.94V174.70h-2.94z M98.83 141.50h2.94V144.00h-2.94z M103.53 142.30h2.94V143.10h-2.94z M108.23 142.70h2.94V144.70h-2.94z M136.42 124.90h2.94V125.70h-2.94z M141.12 126.00h2.94V151.30h-2.94z M150.53 135.30h2.94V143.30h-2.94z M164.62 103.30h2.94V120.00h-2.94z M169.32 119.30h2.94V124.00h-2.94z M178.72 122.00h2.94V154.00h-2.94z M192.82 146.00h2.94V155.80h-2.94z M202.22 151.30h2.94V166.00h-2.94z M206.92 165.70h2.94V179.50h-2.94z M225.72 160.00h2.94V177.30h-2.94z M230.43 176.90h2.94V177.70h-2.94z M235.12 176.40h2.94V200.00h-2.94z M253.93 181.50h2.94V193.30h-2.94z M258.62 192.70h2.94V208.70h-2.94z M263.32 209.00h2.94V229.20h-2.94z M272.73 218.00h2.94V235.30h-2.94z M286.82 173.00h2.94V176.00h-2.94z M296.23 173.30h2.94V181.30h-2.94z M319.73 163.00h2.94V168.70h-2.94z M329.12 160.00h2.94V178.70h-2.94z M338.52 164.70h2.94V167.30h-2.94z M352.62 124.00h2.94V129.60h-2.94z M357.32 130.40h2.94V170.00h-2.94z M371.43 156.30h2.94V174.00h-2.94z M376.12 175.10h2.94V180.80h-2.94z M394.93 192.70h2.94V196.00h-2.94z M399.62 195.00h2.94V203.30h-2.94z M418.43 191.20h2.94V192.00h-2.94z M427.82 180.00h2.94V180.80h-2.94z M441.93 148.90h2.94V153.30h-2.94z M446.62 153.30h2.94V164.00h-2.94z M451.32 164.00h2.94V176.50h-2.94z M465.43 137.00h2.94V140.70h-2.94z M470.12 140.70h2.94V148.70h-2.94z M474.82 148.70h2.94V181.30h-2.94z M484.23 111.90h2.94V112.70h-2.94z M493.62 89.30h2.94V90.10h-2.94z M507.73 45.30h2.94V48.70h-2.94z M517.12 37.30h2.94V47.30h-2.94z M526.52 40.60h2.94V41.40h-2.94z M540.62 5.30h2.94V21.30h-2.94z M545.32 22.00h2.94V22.80h-2.94z M554.72 19.30h2.94V26.00h-2.94z M564.12 24.00h2.94V32.00h-2.94z M568.82 32.00h2.94V36.00h-2.94z M587.62 -5.40h2.94V-4.60h-2.94z M601.72 -5.40h2.94V-4.60h-2.94z M606.42 -5.00h2.94V2.60h-2.94z M620.52 -5.00h2.94V1.40h-2.94z M625.22 -5.00h2.94V1.00h-2.94z M629.92 -5.00h2.94V0.60h-2.94z" fill="#000" stroke="none"/>
<path d="M9.85 110.30h2.3V112.40h-2.3z M23.95 118.60h2.3V129.00h-2.3z M33.35 126.00h2.3V129.00h-2.3z M38.05 111.60h2.3V126.40h-2.3z M47.45 103.30h2.3V121.40h-2.3z M56.85 105.60h2.3V112.40h-2.3z M70.94 141.30h2.3V143.00h-2.3z M80.34 147.60h2.3V149.40h-2.3z M89.75 167.60h2.3V174.40h-2.3z M94.44 142.30h2.3V167.00h-2.3z M113.25 141.60h2.3V143.70h-2.3z M117.95 138.70h2.3V141.60h-2.3z M122.64 133.30h2.3V138.50h-2.3z M127.34 130.30h2.3V133.00h-2.3z M132.04 125.60h2.3V134.30h-2.3z M146.14 135.60h2.3V151.00h-2.3z M155.54 129.60h2.3V142.40h-2.3z M160.24 105.00h2.3V128.40h-2.3z M174.34 121.60h2.3V124.40h-2.3z M183.74 151.60h2.3V154.10h-2.3z M188.44 148.60h2.3V150.70h-2.3z M197.84 151.80h2.3V155.20h-2.3z M211.94 176.30h2.3V179.70h-2.3z M216.64 164.30h2.3V175.70h-2.3z M221.34 160.30h2.3V164.00h-2.3z M240.14 187.00h2.3V199.70h-2.3z M244.84 185.60h2.3V187.20h-2.3z M249.54 182.30h2.3V185.70h-2.3z M268.35 218.30h2.3V229.00h-2.3z M277.75 228.70h2.3V234.70h-2.3z M282.45 173.00h2.3V206.20h-2.3z M291.85 173.60h2.3V176.40h-2.3z M301.25 175.60h2.3V181.70h-2.3z M305.95 171.30h2.3V175.70h-2.3z M310.65 168.30h2.3V171.40h-2.3z M315.35 163.30h2.3V168.10h-2.3z M324.75 160.30h2.3V169.70h-2.3z M334.15 165.60h2.3V179.70h-2.3z M343.55 147.00h2.3V167.00h-2.3z M348.25 124.70h2.3V147.00h-2.3z M362.35 164.70h2.3V170.10h-2.3z M367.05 156.60h2.3V164.40h-2.3z M381.15 175.00h2.3V180.20h-2.3z M385.85 158.30h2.3V172.10h-2.3z M390.55 193.00h2.3V246.10h-2.3z M404.65 198.30h2.3V202.70h-2.3z M409.35 194.30h2.3V198.60h-2.3z M414.05 191.60h2.3V193.70h-2.3z M423.45 181.60h2.3V191.70h-2.3z M432.85 155.60h2.3V178.10h-2.3z M437.55 149.00h2.3V155.00h-2.3z M456.35 157.00h2.3V176.20h-2.3z M461.05 137.00h2.3V156.50h-2.3z M479.85 112.60h2.3V179.70h-2.3z M489.25 91.60h2.3V112.40h-2.3z M498.65 55.60h2.3V89.00h-2.3z M503.35 45.60h2.3V56.10h-2.3z M512.75 37.30h2.3V48.00h-2.3z M522.14 41.30h2.3V47.70h-2.3z M531.54 26.70h2.3V42.10h-2.3z M536.25 6.30h2.3V26.40h-2.3z M550.35 19.60h2.3V22.40h-2.3z M559.75 23.60h2.3V26.10h-2.3z M573.85 23.60h2.3V35.70h-2.3z M578.54 12.50h2.3V23.20h-2.3z M583.25 -2.70h2.3V11.70h-2.3z M611.45 -4.70h2.3V2.10h-2.3z" fill="#fff" stroke="#000" stroke-width="0.68"/>
<path d="M1.30 110.00 L6.70 107.30 L12.00 104.70 L16.00 104.00 L22.70 105.60 L28.00 106.70 L33.30 106.70 L40.00 106.70 L46.70 107.70 L53.30 108.00 L60.00 109.30 L66.70 111.30 L70.70 112.30 L76.00 113.00 L82.70 112.70 L88.00 112.30 L93.30 112.00 L100.00 111.30 L106.70 114.00 L113.30 118.00 L120.00 121.30 L126.70 126.00 L133.30 129.00 L140.00 130.70 L146.70 131.70 L153.30 132.70 L160.00 132.70 L166.70 132.70 L173.30 132.30 L180.00 132.70 L186.70 133.00 L193.30 133.00 L198.00 132.70 L203.30 130.70 L210.00 130.00 L216.70 130.70 L223.30 132.40 L230.00 134.70 L236.70 137.30 L243.30 140.70 L250.00 144.00 L256.70 146.00 L263.30 147.30 L270.00 150.30 L276.70 155.00 L280.00 157.30 L283.30 159.00 L288.00 161.00 L293.30 163.30 L300.00 168.70 L306.70 174.70 L312.00 179.30 L316.00 182.00 L322.70 182.00 L330.70 181.30 L336.00 180.70 L341.30 179.70 L346.70 178.70 L353.30 177.30 L360.00 176.70 L366.70 175.70 L371.00 175.30 L375.30 174.70 L380.70 172.70 L386.00 170.70 L391.30 166.00 L396.70 164.40 L403.30 164.00 L410.00 164.40 L416.70 165.30 L424.70 165.70 L428.70 168.70 L434.00 172.00 L439.30 174.70 L444.70 177.00 L450.70 179.00 L457.30 179.30 L464.00 179.70 L469.30 179.30 L473.30 178.00 L477.30 176.00 L482.70 173.60 L488.00 172.70 L493.30 172.30 L498.70 172.00 L502.70 169.30 L506.70 166.70 L510.70 166.00 L514.70 166.00 L518.70 164.70 L522.70 161.30 L526.30 157.00 L532.70 151.40 L539.90 141.10 L547.90 128.30 L555.80 117.90 L563.80 109.10 L571.80 98.80 L580.60 87.10 L588.60 78.30 L596.60 71.10 L604.60 65.50 L612.50 62.00 L617.30 59.10 L621.50 54.00 L626.00 49.30 L632.70 43.30 L639.30 38.00 L646.00 34.00 L652.70 30.40 L659.30 27.10 L666.00 24.30 L672.70 21.30 L678.00 19.10 L682.90 16.70" stroke="#0a4ad8" stroke-width="1.2" fill="none" stroke-linejoin="round" stroke-linecap="round"/>
<path d="M1.30 93.30 L6.70 96.70 L13.30 100.00 L20.00 101.30 L26.70 102.70 L33.30 104.30 L38.70 105.30 L44.00 107.30 L49.30 110.00 L53.30 112.00 L57.30 114.30 L62.70 115.00 L66.70 114.00 L72.00 113.70 L77.30 112.00 L82.70 111.30 L88.00 111.60 L93.30 116.00 L100.00 120.90 L104.00 124.00 L108.00 128.70 L113.30 133.60 L120.00 136.70 L126.70 137.30 L133.30 139.00 L138.70 139.30 L144.00 138.40 L150.70 136.70 L156.00 135.70 L161.30 134.70 L166.70 135.00 L173.30 136.00 L180.00 136.00 L185.30 134.00 L190.70 131.30 L196.00 129.00 L200.00 128.90 L203.30 130.00 L210.00 132.40 L216.70 135.30 L223.30 139.30 L227.30 142.70 L231.30 146.70 L236.70 150.70 L242.00 153.00 L247.30 154.00 L252.70 156.00 L256.70 158.70 L262.00 162.70 L267.30 166.70 L272.70 169.30 L278.00 171.60 L284.00 177.30 L288.00 181.30 L293.30 187.30 L298.70 192.70 L303.30 196.00 L306.70 194.70 L312.00 191.30 L317.30 188.70 L324.00 186.70 L330.70 184.70 L336.00 182.70 L341.30 180.70 L346.70 178.70 L352.00 176.70 L357.30 175.70 L362.70 175.00 L368.00 172.00 L372.70 165.30 L376.70 160.70 L382.00 159.60 L387.30 159.60 L392.70 160.70 L399.30 162.70 L406.00 163.30 L410.00 163.30 L412.70 166.70 L416.70 172.00 L422.00 176.70 L427.30 180.00 L432.70 182.00 L438.00 183.30 L445.30 184.00 L450.70 183.30 L456.00 181.30 L461.30 177.30 L466.70 173.30 L470.70 171.30 L476.00 171.30 L481.30 171.00 L485.30 170.00 L489.30 166.00 L493.30 162.00 L496.00 161.00 L498.70 162.40 L502.70 161.30 L506.70 157.30 L514.40 146.60 L520.70 137.10 L527.10 121.90 L533.50 109.10 L539.90 98.80 L547.10 90.00 L551.90 84.70 L559.90 71.10 L567.90 59.10 L574.30 52.80 L580.00 47.70 L586.70 45.00 L590.00 44.00 L596.70 41.30 L602.00 38.00 L607.30 33.30 L612.70 28.00 L618.00 22.70 L623.30 18.40 L628.70 15.70 L634.00 13.30 L640.70 10.90 L647.30 9.10 L654.00 7.30 L660.70 5.30 L668.90 2.30" stroke="#ff1010" stroke-width="1.2" fill="none" stroke-linejoin="round" stroke-linecap="round"/>
<path d="M1.30 97.00 L6.70 100.70 L10.70 102.70 L16.00 103.30 L22.70 105.30 L28.00 107.30 L33.30 109.60 L38.70 112.20 L44.00 116.00 L49.30 118.70 L56.00 118.80 L62.70 117.30 L66.70 114.00 L72.00 111.30 L76.00 110.70 L80.00 113.30 L85.30 120.00 L90.00 125.30 L94.00 129.70 L98.10 136.20 L102.10 142.30 L106.20 145.10 L110.20 145.50 L114.30 144.70 L118.30 144.10 L122.40 143.90 L126.40 143.90 L130.50 143.50 L134.50 141.50 L138.60 139.40 L142.60 137.40 L146.70 135.60 L150.00 135.20 L153.30 135.00 L158.70 135.70 L164.00 136.00 L169.30 136.00 L173.30 134.40 L177.30 130.70 L181.30 127.70 L185.30 126.70 L190.70 127.00 L194.70 128.00 L198.70 131.30 L200.70 132.70 L206.00 136.70 L211.30 140.70 L216.70 146.00 L220.70 151.30 L224.70 156.00 L228.70 159.00 L232.70 161.00 L236.70 161.30 L240.70 162.00 L244.70 164.40 L248.70 168.00 L252.70 171.30 L256.70 174.70 L262.00 177.30 L266.00 178.70 L274.00 184.00 L280.70 193.30 L286.00 201.30 L290.00 205.30 L292.70 207.70 L296.00 205.00 L301.30 198.50 L303.30 195.30 L306.70 192.00 L312.00 188.70 L317.30 185.30 L324.00 182.00 L329.30 179.30 L333.30 176.70 L337.30 174.70 L342.70 173.00 L348.00 172.40 L353.30 172.00 L357.30 169.60 L361.30 164.00 L365.30 156.70 L368.00 152.00 L370.00 151.30 L376.70 153.30 L383.30 156.70 L390.00 160.00 L396.70 162.00 L400.70 162.70 L402.70 166.00 L405.30 172.70 L410.00 178.00 L415.30 184.00 L420.70 188.00 L426.00 189.30 L431.30 189.70 L436.70 189.30 L440.00 188.00 L444.00 186.00 L448.00 181.30 L452.00 175.30 L456.00 170.70 L460.00 167.70 L464.00 167.30 L468.00 168.30 L472.00 168.00 L476.00 166.00 L480.00 160.00 L482.70 156.70 L485.30 155.00 L488.00 156.70 L490.70 158.40 L494.70 156.00 L497.30 150.70 L500.00 145.80 L506.40 133.10 L512.80 120.30 L517.60 106.00 L520.00 99.80 L523.90 90.00 L528.00 81.80 L536.00 70.00 L543.90 61.10 L551.90 48.40 L555.50 43.00 L559.30 38.70 L564.70 34.00 L570.00 31.70 L576.70 30.70 L583.30 30.00 L590.00 29.30 L594.00 26.70 L598.00 22.70 L602.00 18.00 L606.00 13.30 L610.00 10.00 L614.00 7.30 L618.00 5.60 L623.30 5.10 L628.70 4.00 L634.00 2.40 L639.30 1.30 L644.70 1.00 L650.00 0.20 L654.00 -0.50" stroke="#10f010" stroke-width="1.2" fill="none" stroke-linejoin="round" stroke-linecap="round"/>
<rect x="722.0" y="0" width="30.5" height="420" fill="#fff"/>
<rect x="0" y="0" width="1.3" height="420" fill="#fff"/>
<path d="M1.5 0V420" stroke="#666666" stroke-width="0.9"/>
<path d="M721.5 0V420" stroke="#666666" stroke-width="1.0"/>
<path d="M1 253.95H722.0" stroke="#555555" stroke-width="1.85"/>
<path d="M1 313.9H722.0" stroke="#555555" stroke-width="1.85"/>
<path d="M1 373.95H722.0" stroke="#555555" stroke-width="1.85"/>
<g style="filter:grayscale(1)">
<path d="M721.5 8.52h2.3" stroke="#666666" stroke-width="0.7"/>
<text x="724.2" y="10.67" font-size="5.9" textLength="19.3" lengthAdjust="spacingAndGlyphs">6083.85</text>
<path d="M721.5 27.32h2.3" stroke="#666666" stroke-width="0.7"/>
<text x="724.2" y="29.47" font-size="5.9" textLength="19.3" lengthAdjust="spacingAndGlyphs">6070.20</text>
<path d="M721.5 46.12h2.3" stroke="#666666" stroke-width="0.7"/>
<text x="724.2" y="48.27" font-size="5.9" textLength="19.3" lengthAdjust="spacingAndGlyphs">6056.55</text>
<path d="M721.5 64.92h2.3" stroke="#666666" stroke-width="0.7"/>
<text x="724.2" y="67.07" font-size="5.9" textLength="19.3" lengthAdjust="spacingAndGlyphs">6042.90</text>
<path d="M721.5 83.72h2.3" stroke="#666666" stroke-width="0.7"/>
<text x="724.2" y="85.87" font-size="5.9" textLength="19.3" lengthAdjust="spacingAndGlyphs">6029.25</text>
<path d="M721.5 102.52h2.3" stroke="#666666" stroke-width="0.7"/>
<text x="724.2" y="104.67" font-size="5.9" textLength="19.3" lengthAdjust="spacingAndGlyphs">6015.60</text>
<path d="M721.5 121.32h2.3" stroke="#666666" stroke-width="0.7"/>
<text x="724.2" y="123.47" font-size="5.9" textLength="19.3" lengthAdjust="spacingAndGlyphs">6001.95</text>
<path d="M721.5 140.12h2.3" stroke="#666666" stroke-width="0.7"/>
<text x="724.2" y="142.27" font-size="5.9" textLength="19.3" lengthAdjust="spacingAndGlyphs">5988.30</text>
<path d="M721.5 158.92h2.3" stroke="#666666" stroke-width="0.7"/>
<text x="724.2" y="161.07" font-size="5.9" textLength="19.3" lengthAdjust="spacingAndGlyphs">5974.65</text>
<path d="M721.5 177.72h2.3" stroke="#666666" stroke-width="0.7"/>
<text x="724.2" y="179.87" font-size="5.9" textLength="19.3" lengthAdjust="spacingAndGlyphs">5961.00</text>
<path d="M721.5 196.52h2.3" stroke="#666666" stroke-width="0.7"/>
<text x="724.2" y="198.67" font-size="5.9" textLength="19.3" lengthAdjust="spacingAndGlyphs">5947.35</text>
<path d="M721.5 215.32h2.3" stroke="#666666" stroke-width="0.7"/>
<text x="724.2" y="217.47" font-size="5.9" textLength="19.3" lengthAdjust="spacingAndGlyphs">5933.70</text>
<path d="M721.5 234.12h2.3" stroke="#666666" stroke-width="0.7"/>
<text x="724.2" y="236.27" font-size="5.9" textLength="19.3" lengthAdjust="spacingAndGlyphs">5920.05</text>
<path d="M721.5 255.30h2.3" stroke="#666666" stroke-width="0.7"/>
<text x="724.2" y="259.75" font-size="5.9" textLength="16.3" lengthAdjust="spacingAndGlyphs">82.817</text>
<text x="724.2" y="292.45" font-size="5.9" textLength="13.5" lengthAdjust="spacingAndGlyphs">0.000</text>
<path d="M721.5 312.30h2.3" stroke="#666666" stroke-width="0.7"/>
<text x="724.2" y="312.05" font-size="5.9" textLength="18.5" lengthAdjust="spacingAndGlyphs">-52.791</text>
<path d="M721.5 315.20h2.3" stroke="#666666" stroke-width="0.7"/>
<text x="724.2" y="319.75" font-size="5.9" textLength="19.3" lengthAdjust="spacingAndGlyphs">23.0756</text>
<text x="724.2" y="350.85" font-size="5.9" textLength="16.3" lengthAdjust="spacingAndGlyphs">0.0000</text>
<path d="M721.5 372.30h2.3" stroke="#666666" stroke-width="0.7"/>
<text x="724.2" y="372.05" font-size="5.9" textLength="20.8" lengthAdjust="spacingAndGlyphs">-15.9938</text>
<path d="M721.5 375.20h2.3" stroke="#666666" stroke-width="0.7"/>
<text x="724.2" y="379.75" font-size="5.9" textLength="16.3" lengthAdjust="spacingAndGlyphs">37.872</text>
<text x="724.2" y="406.85" font-size="5.9" textLength="13.5" lengthAdjust="spacingAndGlyphs">0.000</text>
<text x="3.3" y="262.00" font-size="5.9" textLength="36.5" lengthAdjust="spacingAndGlyphs">AOcust 19.049</text>
<text x="3.3" y="321.90" font-size="5.9" textLength="38.5" lengthAdjust="spacingAndGlyphs">ACcust -4.7915</text>
<text x="3.3" y="381.90" font-size="5.9" textLength="59.5" lengthAdjust="spacingAndGlyphs">GatorCust 14.760 -6.382</text>
</g>
</svg></body></html>
